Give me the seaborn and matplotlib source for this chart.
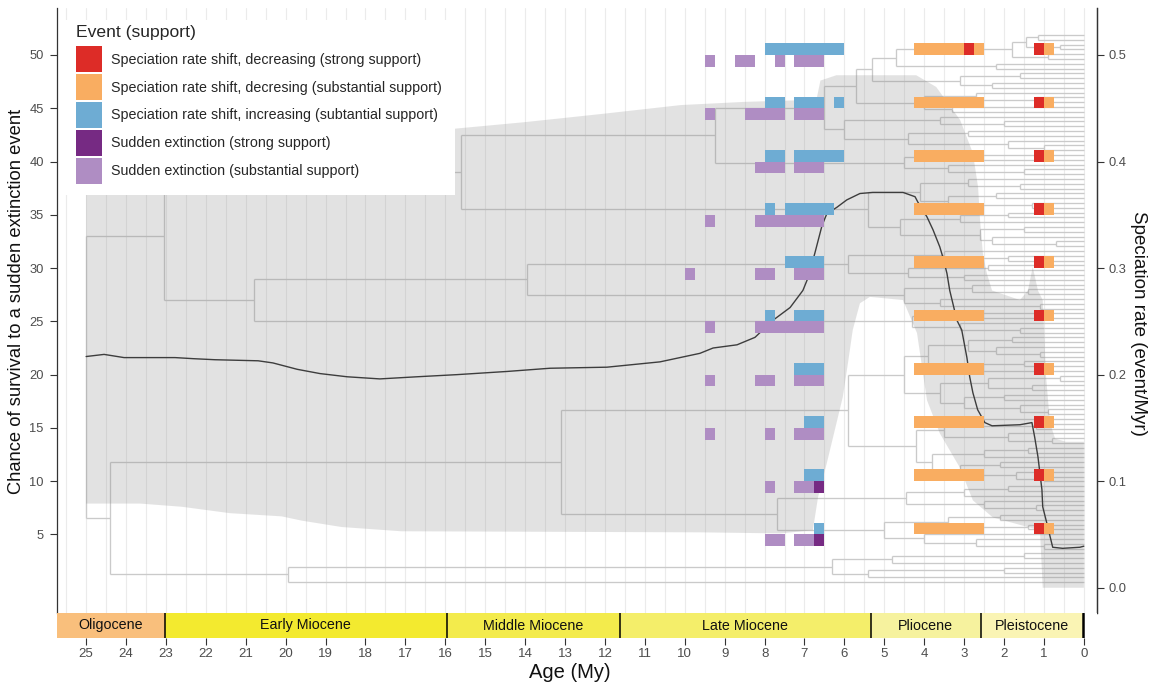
import matplotlib
matplotlib.use("Agg")
import matplotlib.pyplot as plt
import seaborn as sns
import pandas as pd
import numpy as np
from matplotlib.patches import Patch, Rectangle

sns.set_theme(style="white")
plt.rcParams['font.family'] = ['Liberation Sans', 'DejaVu Sans']

# ---------------- data ----------------
# median speciation rate through time (age in My, rate in events/Myr)
rate_age = [25.0, 24.55, 24.05, 22.77, 22.32, 21.77, 20.69, 20.32, 19.71, 19.14, 18.46, 17.64,
            16.71, 15.71, 14.45, 13.38, 11.95, 10.62, 9.62, 9.29, 8.69, 8.24, 7.79, 7.36, 7.04,
            6.91, 6.74, 6.56, 6.44, 6.19, 5.94, 5.61, 5.29, 4.53, 4.23, 4.16, 3.93, 3.78, 3.61,
            3.53, 3.43, 3.36, 3.18, 3.06, 2.93, 2.86, 2.78, 2.66, 2.48, 2.30, 1.60, 1.30, 1.23,
            1.15, 1.05, 1.03, 0.93, 0.78, 0.53, 0.10, 0.0]
rate_val = [0.217, 0.219, 0.216, 0.216, 0.215, 0.214, 0.213, 0.211, 0.205, 0.201, 0.198, 0.196,
            0.198, 0.200, 0.203, 0.206, 0.207, 0.212, 0.220, 0.225, 0.228, 0.235, 0.251, 0.263, 0.279,
            0.291, 0.314, 0.340, 0.351, 0.357, 0.364, 0.370, 0.371, 0.371, 0.367, 0.362, 0.348, 0.336, 0.320,
            0.310, 0.295, 0.279, 0.251, 0.242, 0.216, 0.198, 0.183, 0.167, 0.155, 0.152, 0.153, 0.155, 0.141,
            0.123, 0.092, 0.076, 0.061, 0.038, 0.037, 0.038, 0.039]

# credible interval of the speciation rate
band_hi_age = [25.0, 20.0, 16.0, 14.0, 12.0, 10.1, 8.5, 6.7, 6.6, 6.2, 4.2, 3.7, 3.1, 2.78, 2.65,
               2.6, 2.53, 2.43, 2.3, 1.6, 1.4, 1.28, 1.15, 1.03, 0.95, 0.85, 0.72, 0.45, 0.0]
band_hi = [0.42, 0.425, 0.43, 0.437, 0.445, 0.453, 0.456, 0.458, 0.476, 0.481, 0.481, 0.470, 0.439,
           0.408, 0.376, 0.345, 0.314, 0.295, 0.279, 0.27, 0.279, 0.301, 0.279, 0.27, 0.20, 0.155,
           0.14, 0.137, 0.137]
band_lo_age = [25.0, 23.65, 22.6, 21.4, 20.1, 19.6, 18.6, 17.1, 9.6, 7.6, 6.79, 6.66, 6.44, 6.24,
               6.04, 5.91, 5.79, 5.61, 5.36, 4.53, 4.18, 3.93, 3.61, 3.11, 2.78, 2.28, 1.6, 1.1,
               1.03, 0.0]
band_lo = [0.079, 0.079, 0.076, 0.070, 0.067, 0.063, 0.057, 0.053, 0.052, 0.051, 0.054, 0.085,
           0.117, 0.148, 0.179, 0.211, 0.242, 0.267, 0.273, 0.270, 0.239, 0.176, 0.145, 0.113,
           0.082, 0.066, 0.059, 0.054, 0.0, 0.0]

# events: (row = chance of survival, older bound, younger bound) in My
dec_strong = [(50, 3.0, 2.75), (50, 1.25, 1.0), (45, 1.25, 1.0), (40, 1.25, 1.0), (35, 1.25, 1.0),
              (30, 1.25, 1.0), (25, 1.25, 1.0), (20, 1.25, 1.0), (15, 1.25, 1.0), (10, 1.25, 1.0),
              (5, 1.25, 1.0)]
dec_sub = [(50, 4.25, 3.0), (50, 2.75, 2.5), (50, 1.0, 0.75),
           (45, 4.25, 2.5), (45, 1.0, 0.75), (40, 4.25, 2.5), (40, 1.0, 0.75),
           (35, 4.25, 2.5), (35, 1.0, 0.75), (30, 4.25, 2.5), (30, 1.0, 0.75),
           (25, 4.25, 2.5), (25, 1.0, 0.75), (20, 4.25, 2.5), (20, 1.0, 0.75),
           (15, 4.25, 2.5), (15, 1.0, 0.75), (10, 4.25, 2.5), (10, 1.0, 0.75),
           (5, 4.25, 2.5), (5, 1.0, 0.75)]
inc_sub = [(50, 8.0, 6.0), (45, 8.0, 7.5), (45, 7.25, 6.5), (45, 6.25, 6.0),
           (40, 8.0, 7.5), (40, 7.25, 6.0), (35, 8.0, 7.75), (35, 7.5, 6.25),
           (30, 7.5, 6.5), (25, 8.0, 7.75), (25, 7.25, 6.5), (20, 7.25, 6.5),
           (15, 7.0, 6.5), (10, 7.0, 6.5), (5, 6.75, 6.5)]
ext_strong = [(10, 6.75, 6.5), (5, 6.75, 6.5)]
ext_sub = [(50, 9.5, 9.25), (50, 8.75, 8.25), (50, 7.75, 7.5), (50, 7.25, 6.5),
           (45, 9.5, 9.25), (45, 8.5, 7.5), (45, 7.25, 6.5),
           (40, 8.25, 7.5), (40, 7.25, 6.5),
           (35, 9.5, 9.25), (35, 8.25, 6.5),
           (30, 10.0, 9.75), (30, 8.25, 7.75), (30, 7.25, 6.5),
           (25, 9.5, 9.25), (25, 8.25, 6.5),
           (20, 9.5, 9.25), (20, 8.25, 7.75), (20, 7.25, 6.5),
           (15, 9.5, 9.25), (15, 8.0, 7.75), (15, 7.25, 6.5),
           (10, 8.0, 7.75), (10, 7.25, 6.75),
           (5, 8.0, 7.5), (5, 7.25, 6.75)]

event_labels = ["Speciation rate shift, decreasing (strong support)",
                "Speciation rate shift, decresing (substantial support)",
                "Speciation rate shift, increasing (subtantial support)",
                "Sudden extinction (strong support)",
                "Sudden extinction (substantial support)"]
event_colors = ["#DD2C27", "#F9AD61", "#6EACD3", "#762A83", "#AF8DC3"]

# geological epochs
epoch_names = ["Oligocene", "Early Miocene", "Middle Miocene", "Late Miocene", "Pliocene", "Pleistocene"]
epoch_start = [33.9, 23.03, 15.97, 11.63, 5.333, 2.58]
epoch_end = [23.03, 15.97, 11.63, 5.333, 2.58, 0.0117]
epoch_colors = ["#F9BF7C", "#F3EA2F", "#F3EB4C", "#F4EE6A", "#F6F29E", "#FAF4B4"]

# phylogeny: [node age (My), child, child]; 0 = extant tip (tips listed top to bottom)
top_clade = [4.7, [1.8, [1.45, [1.15, 0, 0], [0.6, 0, 0]], [0.9, 0, 0]], [2.2, 0, 0]]
clade_53 = [3.1, [1.6, 0, 0], [2.3, 0, 0]]
clade_57 = [4.0, [2.7, 0, [1.2, 0, 0]], [3.3, 0, 0]]
clade_65 = [6.0, [3.6, 0, [2.0, 0, 0]], [4.4, [2.9, 0, 0], [1.9, 0, [1.0, 0, 0]]]]
clade_92 = [4.5, [2.6, 0, 0], [3.4, 0, [1.5, 0, 0]]]
A1_upper = [9.25, [6.5, [5.7, [5.3, top_clade, clade_53], clade_57], clade_65], clade_92]
A1_lower = [5.4,
            [4.1, [2.9, 0, [1.6, 0, 0]], [3.4, [2.2, 0, 0], [1.3, 0, 0]]],
            [4.6, [3.1, [1.9, 0, 0], 0], [2.6, [1.5, 0, 0], [2.3, 0, [0.7, 0, 0]]]]]
A1 = [15.6, A1_upper, A1_lower]
A2 = [20.8,
      [13.95,
       [5.9, [3.5, 0, [1.9, 0, 0]], [4.4, [2.4, 0, 0], [3.0, 0, 0]]],
       [4.5, [2.8, 0, [1.4, 0, 0]], [3.6, 0, [1.1, 0, 0]]]],
      [4.3, [2.6, 0, 0], [3.1, 0, [1.6, 0, 0]]]]
B1a = [5.9,
       [4.5,
        [3.9, [2.9, [1.8, 0, 0], [2.2, 0, [1.1, 0, 0]]], [3.3, [1.5, 0, 0], 0]],
        [3.6, [2.4, [0.6, 0, 0], [1.3, 0, 0]], [3.0, [2.0, 0, 0], [1.6, 0, [0.9, 0, 0]]]]],
       [4.2,
        [3.5, [2.7, 0, [1.2, 0, 0]], [1.9, 0, [0.8, 0, 0]]],
        [3.8, [2.5, [1.4, 0, 0], 0], [3.1, [2.1, 0, 0], [1.7, 0, [1.0, 0, 0]]]]]]
B1b = [7.7,
       [4.45, [3.0, [1.9, 0, 0], 0], [2.5, 0, [1.2, 0, 0]]],
       [5.0, [3.4, [2.1, 0, 0], [1.4, 0, 0]], [4.0, 0, [2.7, 0, [1.0, 0, 0]]]]]
B2 = [19.95, [6.3, [4.8, [1.5, 0, 0], 0], [5.4, [2.0, 0, 0], 0]], 0]
tree = [25.0, [23.05, A1, A2], [24.4, [13.1, B1a, B1b], B2]]

# ---------------- figure ----------------
W, H = 1150, 686
fig = plt.figure(figsize=(W / 100, H / 100), dpi=100)
ax = fig.add_axes([57 / W, 1 - 613 / H, (1097 - 57) / W, (613 - 8) / H])
XMAX, XMIN = 25.73, -0.33
ax.set_xlim(XMAX, XMIN)
ax.set_ylim(-2.37, 54.41)

# vertical grid every 0.5 My
for g in np.arange(0, 26, 0.5):
    ax.axvline(g, color="#EBEBEB", lw=0.8, zorder=0)

# --- tree layout (ggtree-like rectangular) ---
def count_tips(n):
    return 1 if n == 0 else sum(count_tips(c) for c in n[1:])

n_tips = count_tips(tree)
tip_top, tip_bot = 51.88, 0.53
step = (tip_top - tip_bot) / (n_tips - 1)
hx, hy, vx, vy = [], [], [], []
counter = [0]

def walk(node, parent_age):
    if node == 0:
        y = tip_top - counter[0] * step
        counter[0] += 1
        hx.extend([parent_age, 0.0, np.nan]); hy.extend([y, y, np.nan])
        return y
    age = node[0]
    ys = [walk(c, age) for c in node[1:]]
    y = (ys[0] + ys[-1]) / 2
    vx.extend([age, age, np.nan]); vy.extend([min(ys), max(ys), np.nan])
    if parent_age is not None:
        hx.extend([parent_age, age, np.nan]); hy.extend([y, y, np.nan])
    return y

walk(tree, None)
ax.plot(hx, hy, color="#CACACA", lw=0.95, zorder=1, solid_capstyle="butt")
ax.plot(vx, vy, color="#CACACA", lw=0.95, zorder=1, solid_capstyle="butt")

# --- credible band (rates drawn x100 on the left scale; right axis shows rate) ---
poly_x = list(band_hi_age) + list(band_lo_age[::-1])
poly_y = [v * 100 for v in band_hi] + [v * 100 for v in band_lo[::-1]]
ax.fill(poly_x, poly_y, color="#7F7F7F", alpha=0.22, lw=0, zorder=2)

# --- median speciation rate ---
rate_df = pd.DataFrame({"age": rate_age, "rate100": [v * 100 for v in rate_val]})
sns.lineplot(data=rate_df, x="age", y="rate100", ax=ax, color="#3D3D3D", lw=1.0,
             sort=False, zorder=3, legend=False)

# --- event tiles ---
def draw_tiles(events, color, upper):
    df = pd.DataFrame(events, columns=["row", "old", "young"])
    bottom = df["row"] if upper else df["row"] - 1.1
    ax.bar((df["old"] + df["young"]) / 2, 1.1, width=df["old"] - df["young"], bottom=bottom,
           color=color, lw=0, zorder=4, align="center")

draw_tiles(dec_sub, event_colors[1], True)
draw_tiles(dec_strong, event_colors[0], True)
draw_tiles(inc_sub, event_colors[2], True)
draw_tiles(ext_sub, event_colors[4], False)
draw_tiles(ext_strong, event_colors[3], False)

# --- axes styling ---
ax.set_yticks([5, 10, 15, 20, 25, 30, 35, 40, 45, 50])
ax.set_xticks([])
ax.tick_params(axis="y", which="both", left=True, length=5, width=0.8, color="#333333",
               labelsize=9.3, labelcolor="#4D4D4D", pad=4.5)
for s in ["top", "bottom"]:
    ax.spines[s].set_visible(False)
for s in ["left", "right"]:
    ax.spines[s].set_color("#333333")
    ax.spines[s].set_linewidth(0.9)
ax.set_xlabel("")
ax.set_ylabel("Chance of survival to a sudden extinction event", fontsize=13.2, color="#111111")
ax.yaxis.set_label_coords(17 / W, 1 - 301 / H, transform=fig.transFigure)
ax.yaxis.label.set_va("center")
ax.yaxis.label.set_ha("center")

sec = ax.secondary_yaxis("right", functions=(lambda y: y / 100, lambda r: r * 100))
sec.set_yticks([0.0, 0.1, 0.2, 0.3, 0.4, 0.5])
sec.set_yticklabels(["0.0", "0.1", "0.2", "0.3", "0.4", "0.5"])
sec.tick_params(length=5, width=0.8, color="#333333", labelsize=9.3, labelcolor="#4D4D4D", pad=3)
sec.spines["right"].set_color("#333333")
sec.spines["right"].set_linewidth(0.9)
sec.set_ylabel("Speciation rate (event/Myr)", rotation=-90, fontsize=13.5, color="#111111")
sec.yaxis.set_label_coords(1138 / W, 1 - 323 / H, transform=fig.transFigure)
sec.yaxis.label.set_va("center")
sec.yaxis.label.set_ha("center")

# --- legend (white panel + legend entries) ---
fig.add_artist(Rectangle((62 / W, 1 - 195 / H), (455 - 62) / W, (195 - 20) / H,
                         transform=fig.transFigure, facecolor="white", edgecolor="none", zorder=4))
handles = [Patch(facecolor=c, edgecolor="none") for c in event_colors]
leg = fig.legend(handles, event_labels, title="Event (support)", loc="upper left",
                 bbox_to_anchor=(76 / W, 1 - 25 / H), bbox_transform=fig.transFigure,
                 fontsize=10.3, title_fontsize=12.6, frameon=False, alignment="left",
                 handlelength=1.82, handleheight=2.42, labelspacing=0.13,
                 handletextpad=0.63, borderpad=0, borderaxespad=0)
leg._legend_box.sep = 4.5
leg.set_zorder(5)

# --- epoch bar ---
ax2 = fig.add_axes([57 / W, 1 - 638 / H, (1097 - 57) / W, 25 / H])
ax2.set_xlim(XMAX, XMIN)
ax2.set_ylim(0, 1)
ep = pd.DataFrame({"name": epoch_names, "start": epoch_start, "end": epoch_end, "color": epoch_colors})
ax2.bar((ep["start"] + ep["end"]) / 2, 1, width=ep["start"] - ep["end"], bottom=0,
        color=ep["color"], lw=0, align="center")
for b in epoch_end[:-1]:
    ax2.axvline(b, color="black", lw=1.1)
ax2.axvline(epoch_end[-1], color="black", lw=1.8)
for _, r in ep.iterrows():
    cx = (min(r["start"], XMAX) + r["end"]) / 2
    ax2.text(cx, 0.5, r["name"], ha="center", va="center", fontsize=10.3, color="#111111")
for s in ax2.spines.values():
    s.set_visible(False)
ax2.set_yticks([])
ax2.set_xticks(list(range(25, -1, -1)))
ax2.set_xticklabels([str(v) for v in range(25, -1, -1)])
ax2.tick_params(axis="x", bottom=True, length=5, width=0.8, color="#333333", labelsize=9.5,
                labelcolor="#4D4D4D", pad=2)
ax2.set_xlabel("Age (My)", fontsize=14.5, color="#111111")
ax2.xaxis.set_label_coords(570 / W, 1 - 672 / H, transform=fig.transFigure)
ax2.xaxis.label.set_va("center")

fig.savefig("out.png", dpi=100)
